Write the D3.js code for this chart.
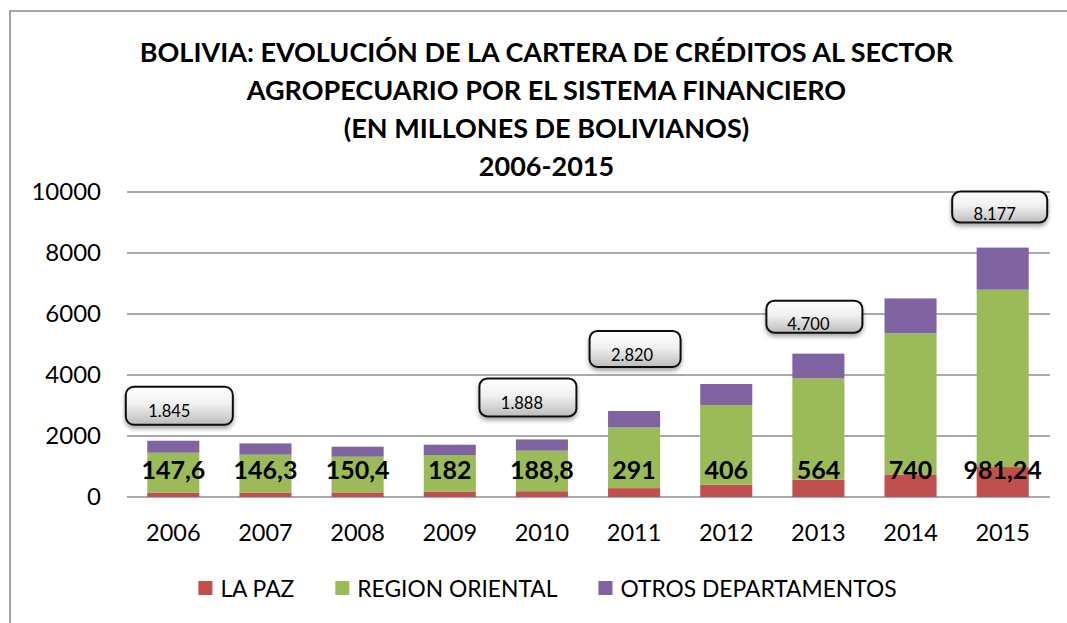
<!DOCTYPE html>
<html>
<head>
<meta charset="utf-8">
<script src="https://cdn.jsdelivr.net/npm/d3@7"></script>
<style>
  html, body { margin: 0; padding: 0; background: #fff; }
  svg { display: block; }
  text { font-family: Lato, "Open Sans", sans-serif; fill: #000; }
</style>
</head>
<body>
<svg id="chart" width="1067" height="623"></svg>
<script>
// ---------- DATA ----------
const years = ["2006","2007","2008","2009","2010","2011","2012","2013","2014","2015"];
const laPaz = [147.6, 146.3, 150.4, 182, 188.8, 291, 406, 564, 740, 981.24];
const regionOriental = [1304, 1241, 1171, 1195, 1329, 1990, 2610, 3325, 4624, 5816];
const otrosDepartamentos = [393, 370, 328, 338, 370, 540, 690, 811, 1147, 1380];
const laPazLabels = ["147,6","146,3","150,4","182","188,8","291","406","564","740","981,24"];
const seriesNames = ["LA PAZ", "REGION ORIENTAL", "OTROS DEPARTAMENTOS"];
const yTicks = [0, 2000, 4000, 6000, 8000, 10000];
const calloutYears = ["2006","2010","2011","2013","2015"];
const calloutLabels = ["1.845","1.888","2.820","4.700","8.177"];
const titleLines = [
  "BOLIVIA: EVOLUCIÓN DE LA CARTERA DE CRÉDITOS AL SECTOR",
  "AGROPECUARIO POR EL SISTEMA FINANCIERO",
  "(EN MILLONES DE BOLIVIANOS)",
  "2006-2015"
];

// ---------- LAYOUT / STYLE ----------
const colors = ["#C0504D", "#9BBB59", "#8064A2"];
const calloutLayout = [
  {dx: 6,  gap: 16, w: 107, h: 38, tdx: -10, tdy: -8},
  {dx: -14, gap: 23, w: 97, h: 38, tdx: -6, tdy: -7},
  {dx: 1,  gap: 44, w: 91, h: 36, tdx: -3, tdy: -6},
  {dx: -4, gap: 21, w: 96, h: 32, tdx: -6, tdy: -3},
  {dx: -3, gap: 25, w: 95, h: 31, tdx: -5, tdy: -3}
];

const svg = d3.select("#chart");

// defs
const defs = svg.append("defs");
const grad = defs.append("linearGradient").attr("id", "boxGrad")
  .attr("x1", 0).attr("y1", 0).attr("x2", 0).attr("y2", 1);
grad.append("stop").attr("offset", "0%").attr("stop-color", "#ffffff");
grad.append("stop").attr("offset", "45%").attr("stop-color", "#f1f1f1");
grad.append("stop").attr("offset", "100%").attr("stop-color", "#bcbcbc");
const filt = defs.append("filter").attr("id", "shadow")
  .attr("x", "-20%").attr("y", "-20%").attr("width", "140%").attr("height", "160%");
filt.append("feDropShadow").attr("dx", 0).attr("dy", 3).attr("stdDeviation", 2.2)
  .attr("flood-color", "#000").attr("flood-opacity", 0.35);

// outer border
svg.append("rect").attr("x", 10).attr("y", 11).attr("width", 1200).attr("height", 800)
  .attr("fill", "none").attr("stroke", "#8f8f8f").attr("stroke-width", 1.6);

// scales
const x = d3.scaleBand().domain(years).range([127, 1049]).paddingInner(0.435).paddingOuter(0.22);
const y = d3.scaleLinear().domain([0, 10000]).range([497, 192]);

// gridlines
svg.append("g").selectAll("line").data(yTicks).join("line")
  .attr("x1", 127).attr("x2", 1050)
  .attr("y1", d => y(d)).attr("y2", d => y(d))
  .attr("stroke", "#8e8e8e").attr("stroke-width", 1.5);

// y axis labels
const yAxis = d3.axisLeft(y).tickValues(yTicks).tickSize(0).tickPadding(0).tickFormat(d3.format("d"));
const yg = svg.append("g").attr("transform", "translate(101,0)").call(yAxis);
yg.select(".domain").remove();
yg.selectAll("text").attr("font-family", "Lato").attr("font-size", 24).attr("fill", "#000");

// x axis labels
const xAxis = d3.axisBottom(x).tickSize(0).tickPadding(0);
const xg = svg.append("g").attr("transform", "translate(0,0)").call(xAxis);
xg.select(".domain").remove();
xg.selectAll("text").attr("font-family", "Lato").attr("font-size", 23.5).attr("fill", "#000")
  .attr("y", 541).attr("dy", null);

// stacked bars
const table = years.map((yr, i) => ({year: yr, a: laPaz[i], b: regionOriental[i], c: otrosDepartamentos[i]}));
const stack = d3.stack().keys(["a", "b", "c"])(table);
svg.append("g").selectAll("g").data(stack).join("g")
  .attr("fill", (d, i) => colors[i])
  .selectAll("rect").data(d => d).join("rect")
  .attr("x", d => x(d.data.year))
  .attr("width", x.bandwidth())
  .attr("y", d => y(d[1]))
  .attr("height", d => y(d[0]) - y(d[1]));

// La Paz value labels
svg.append("g").selectAll("text").data(years).join("text")
  .attr("x", d => x(d) + x.bandwidth() / 2)
  .attr("y", 479)
  .attr("text-anchor", "middle")
  .attr("font-weight", "bold")
  .attr("font-size", 25)
  .text((d, i) => laPazLabels[i]);

// callouts
const totals = years.map((yr, i) => laPaz[i] + regionOriental[i] + otrosDepartamentos[i]);
const cg = svg.append("g");
calloutYears.forEach((yr, k) => {
  const L = calloutLayout[k];
  const i = years.indexOf(yr);
  const cx = x(yr) + x.bandwidth() / 2 + L.dx;
  const bottom = y(totals[i]) - L.gap;
  const g = cg.append("g");
  g.append("rect")
    .attr("x", cx - L.w / 2).attr("y", bottom - L.h)
    .attr("width", L.w).attr("height", L.h)
    .attr("rx", 8).attr("ry", 8)
    .attr("fill", "url(#boxGrad)")
    .attr("stroke", "#111").attr("stroke-width", 2)
    .attr("filter", "url(#shadow)");
  g.append("text")
    .attr("x", cx + L.tdx).attr("y", bottom + L.tdy)
    .attr("text-anchor", "middle")
    .attr("font-size", 16.5)
    .attr("fill", "#222")
    .text(calloutLabels[k]);
});

// title
svg.append("g").selectAll("text").data(titleLines).join("text")
  .attr("x", 546.5)
  .attr("y", (d, i) => 62 + i * 38)
  .attr("text-anchor", "middle")
  .attr("font-weight", "bold")
  .attr("font-size", 27)
  .text(d => d);

// legend
const legend = svg.append("g");
const items = legend.selectAll("g").data(seriesNames).join("g");
items.append("rect").attr("width", 14).attr("height", 14).attr("y", 581)
  .attr("fill", (d, i) => colors[i]);
items.append("text").attr("x", 22).attr("y", 596.5).attr("font-size", 22.8).text(d => d);
let widths = [];
items.each(function () { widths.push(22 + d3.select(this).select("text").node().getComputedTextLength()); });
const gapL = 41;
const totalW = d3.sum(widths) + gapL * (widths.length - 1);
let cur = 547.5 - totalW / 2;
items.each(function (d, i) {
  d3.select(this).attr("transform", `translate(${cur},0)`);
  cur += widths[i] + gapL;
});
</script>
</body>
</html>
